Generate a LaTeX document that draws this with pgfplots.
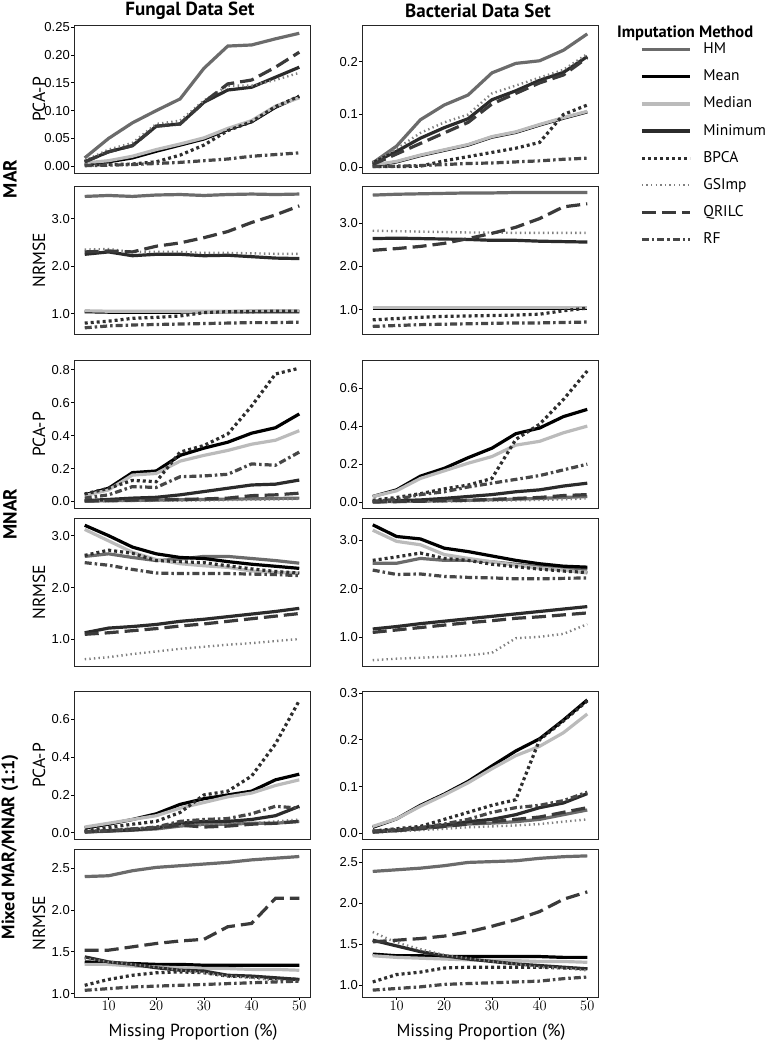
\documentclass[border=0pt]{standalone}
\usepackage{fontspec}
\setmainfont{PT Sans}
\newfontfamily\helv{Liberation Sans}
\usepackage{pgfplots}
\usepackage{pgfplotstable}
\pgfplotsset{compat=1.18}

\definecolor{cHM}{HTML}{6B6B6B}
\definecolor{cMed}{HTML}{BBBBBB}
\definecolor{cMin}{HTML}{2B2B2B}
\definecolor{cBPCA}{HTML}{2E2E2E}
\definecolor{cGS}{HTML}{808080}
\definecolor{cQR}{HTML}{3A3A3A}
\definecolor{cRF}{HTML}{474747}

% columns: x HM Mean Median Minimum BPCA GSImp QRILC RF
\pgfplotstableread{
x HM Mean Median Minimum BPCA GSImp QRILC RF
5  0.015 0.004 0.006 0.008 0.002 0.010 0.008 0.001
10 0.050 0.008 0.010 0.026 0.003 0.030 0.026 0.002
15 0.078 0.015 0.018 0.037 0.004 0.042 0.037 0.003
20 0.100 0.027 0.030 0.072 0.008 0.076 0.072 0.005
25 0.121 0.038 0.040 0.076 0.020 0.082 0.076 0.007
30 0.176 0.049 0.051 0.115 0.038 0.118 0.115 0.010
35 0.216 0.066 0.068 0.137 0.064 0.145 0.148 0.013
40 0.218 0.080 0.082 0.142 0.080 0.145 0.155 0.018
45 0.229 0.106 0.108 0.160 0.107 0.155 0.178 0.021
50 0.239 0.125 0.123 0.178 0.126 0.168 0.205 0.024
}\tA
\pgfplotstableread{
x HM Mean Median Minimum BPCA GSImp QRILC RF
5  3.47 1.04 1.06 2.25 0.80 2.35 2.30 0.70
10 3.49 1.03 1.05 2.30 0.84 2.36 2.32 0.74
15 3.47 1.03 1.05 2.22 0.90 2.30 2.30 0.76
20 3.50 1.03 1.05 2.25 0.92 2.30 2.42 0.77
25 3.51 1.03 1.05 2.25 0.95 2.30 2.49 0.78
30 3.49 1.04 1.05 2.22 1.02 2.28 2.60 0.79
35 3.51 1.04 1.05 2.23 1.04 2.28 2.73 0.80
40 3.52 1.04 1.06 2.20 1.04 2.27 2.92 0.81
45 3.51 1.04 1.06 2.17 1.05 2.26 3.08 0.81
50 3.52 1.04 1.06 2.16 1.05 2.26 3.27 0.82
}\tB
\pgfplotstableread{
x HM Mean Median Minimum BPCA GSImp QRILC RF
5  0.008 0.003 0.004 0.008 0.001 0.010 0.005 0.001
10 0.040 0.010 0.011 0.030 0.001 0.035 0.025 0.002
15 0.090 0.022 0.023 0.055 0.002 0.065 0.045 0.003
20 0.118 0.032 0.033 0.075 0.012 0.085 0.065 0.005
25 0.137 0.042 0.043 0.092 0.020 0.100 0.085 0.007
30 0.179 0.057 0.058 0.128 0.028 0.140 0.120 0.008
35 0.197 0.066 0.067 0.145 0.036 0.155 0.140 0.010
40 0.202 0.080 0.081 0.165 0.047 0.170 0.160 0.012
45 0.222 0.093 0.094 0.180 0.100 0.185 0.175 0.015
50 0.253 0.105 0.106 0.210 0.118 0.215 0.208 0.017
}\tC
\pgfplotstableread{
x HM Mean Median Minimum BPCA GSImp QRILC RF
5  3.64 1.04 1.05 2.64 0.77 2.82 2.37 0.62
10 3.66 1.04 1.05 2.65 0.80 2.81 2.41 0.64
15 3.67 1.04 1.05 2.64 0.83 2.80 2.46 0.66
20 3.68 1.04 1.05 2.63 0.85 2.79 2.53 0.67
25 3.69 1.04 1.05 2.62 0.86 2.78 2.64 0.68
30 3.69 1.04 1.05 2.60 0.87 2.78 2.76 0.69
35 3.70 1.04 1.05 2.60 0.88 2.77 2.90 0.70
40 3.70 1.04 1.05 2.58 0.90 2.77 3.10 0.70
45 3.70 1.04 1.05 2.57 0.98 2.77 3.37 0.71
50 3.70 1.04 1.05 2.56 1.04 2.77 3.44 0.72
}\tD
\pgfplotstableread{
x HM Mean Median Minimum BPCA GSImp QRILC RF
5  0.002 0.040 0.035 0.005 0.045 0.001 0.002 0.020
10 0.004 0.080 0.070 0.012 0.080 0.002 0.005 0.040
15 0.006 0.175 0.160 0.020 0.128 0.003 0.008 0.090
20 0.008 0.185 0.170 0.025 0.120 0.004 0.010 0.085
25 0.010 0.280 0.245 0.040 0.300 0.005 0.012 0.150
30 0.012 0.324 0.280 0.060 0.340 0.006 0.015 0.155
35 0.014 0.360 0.310 0.080 0.410 0.008 0.020 0.165
40 0.016 0.415 0.348 0.100 0.580 0.010 0.035 0.228
45 0.018 0.448 0.372 0.105 0.775 0.012 0.040 0.220
50 0.020 0.532 0.430 0.130 0.810 0.015 0.050 0.300
}\tE
\pgfplotstableread{
x HM Mean Median Minimum BPCA GSImp QRILC RF
5  2.60 3.20 3.12 1.13 2.62 0.62 1.10 2.48
10 2.65 3.00 2.90 1.22 2.72 0.66 1.13 2.43
15 2.58 2.78 2.68 1.25 2.66 0.72 1.17 2.35
20 2.52 2.65 2.54 1.29 2.52 0.77 1.21 2.28
25 2.55 2.58 2.46 1.35 2.50 0.82 1.26 2.27
30 2.60 2.56 2.42 1.39 2.48 0.86 1.30 2.27
35 2.60 2.50 2.39 1.44 2.42 0.90 1.35 2.27
40 2.56 2.45 2.32 1.49 2.36 0.93 1.40 2.26
45 2.52 2.41 2.29 1.54 2.31 0.97 1.45 2.25
50 2.47 2.37 2.28 1.60 2.28 1.01 1.50 2.23
}\tF
\pgfplotstableread{
x HM Mean Median Minimum BPCA GSImp QRILC RF
5  0.002 0.030 0.030 0.003 0.010 0.001 0.001 0.005
10 0.004 0.065 0.060 0.008 0.025 0.002 0.003 0.015
15 0.006 0.137 0.125 0.012 0.045 0.003 0.005 0.040
20 0.008 0.178 0.165 0.020 0.070 0.004 0.008 0.055
25 0.010 0.234 0.205 0.030 0.090 0.006 0.010 0.080
30 0.013 0.284 0.240 0.040 0.125 0.008 0.015 0.100
35 0.016 0.360 0.300 0.055 0.330 0.010 0.020 0.120
40 0.020 0.390 0.320 0.065 0.410 0.012 0.025 0.140
45 0.025 0.450 0.365 0.085 0.540 0.015 0.035 0.170
50 0.030 0.488 0.400 0.100 0.690 0.020 0.040 0.200
}\tG
\pgfplotstableread{
x HM Mean Median Minimum BPCA GSImp QRILC RF
5  2.52 3.31 3.20 1.17 2.58 0.53 1.10 2.38
10 2.52 3.07 2.97 1.22 2.65 0.56 1.15 2.29
15 2.62 3.02 2.90 1.28 2.73 0.58 1.20 2.30
20 2.58 2.83 2.70 1.33 2.62 0.60 1.25 2.25
25 2.58 2.76 2.62 1.38 2.58 0.63 1.30 2.23
30 2.55 2.67 2.55 1.43 2.50 0.68 1.34 2.22
35 2.50 2.58 2.48 1.48 2.45 0.98 1.39 2.20
40 2.45 2.51 2.42 1.53 2.40 1.01 1.42 2.20
45 2.42 2.46 2.38 1.58 2.36 1.07 1.46 2.21
50 2.40 2.44 2.32 1.63 2.33 1.27 1.50 2.22
}\tH
\pgfplotstableread{
x HM Mean Median Minimum BPCA GSImp QRILC RF
5  0.003 0.025 0.030 0.005 0.010 0.005 0.005 0.005
10 0.008 0.045 0.050 0.010 0.027 0.010 0.010 0.010
15 0.013 0.070 0.070 0.015 0.045 0.020 0.020 0.020
20 0.020 0.100 0.090 0.025 0.060 0.030 0.025 0.030
25 0.035 0.150 0.130 0.050 0.107 0.040 0.040 0.060
30 0.045 0.180 0.160 0.060 0.200 0.040 0.030 0.070
35 0.045 0.200 0.190 0.060 0.220 0.045 0.035 0.075
40 0.050 0.220 0.210 0.070 0.300 0.050 0.045 0.100
45 0.050 0.280 0.250 0.090 0.470 0.060 0.050 0.140
50 0.060 0.310 0.280 0.140 0.700 0.070 0.060 0.130
}\tI
\pgfplotstableread{
x HM Mean Median Minimum BPCA GSImp QRILC RF
5  2.40 1.38 1.35 1.44 1.10 1.42 1.52 1.04
10 2.41 1.37 1.35 1.38 1.17 1.38 1.52 1.06
15 2.47 1.36 1.33 1.35 1.22 1.35 1.56 1.08
20 2.51 1.35 1.32 1.31 1.25 1.32 1.60 1.09
25 2.53 1.35 1.31 1.28 1.26 1.28 1.63 1.10
30 2.55 1.34 1.30 1.27 1.25 1.25 1.65 1.11
35 2.57 1.34 1.30 1.22 1.21 1.21 1.80 1.12
40 2.60 1.34 1.29 1.21 1.20 1.19 1.84 1.13
45 2.62 1.34 1.29 1.19 1.18 1.16 2.14 1.14
50 2.64 1.34 1.28 1.17 1.17 1.14 2.14 1.15
}\tJ
\pgfplotstableread{
x HM Mean Median Minimum BPCA GSImp QRILC RF
5  0.003 0.013 0.015 0.003 0.005 0.002 0.003 0.005
10 0.006 0.031 0.031 0.007 0.010 0.004 0.006 0.008
15 0.010 0.060 0.058 0.012 0.015 0.007 0.010 0.012
20 0.015 0.084 0.082 0.018 0.030 0.010 0.015 0.020
25 0.020 0.111 0.108 0.025 0.045 0.013 0.020 0.030
30 0.022 0.144 0.138 0.030 0.060 0.015 0.025 0.045
35 0.025 0.176 0.166 0.040 0.072 0.017 0.030 0.055
40 0.030 0.202 0.186 0.055 0.200 0.020 0.035 0.060
45 0.040 0.242 0.215 0.065 0.240 0.025 0.045 0.070
50 0.050 0.285 0.255 0.085 0.283 0.030 0.055 0.088
}\tK
\pgfplotstableread{
x HM Mean Median Minimum BPCA GSImp QRILC RF
5  2.39 1.38 1.36 1.55 1.04 1.65 1.53 0.94
10 2.41 1.36 1.34 1.48 1.13 1.52 1.55 0.96
15 2.43 1.36 1.33 1.41 1.16 1.44 1.57 0.98
20 2.46 1.35 1.32 1.36 1.21 1.37 1.60 1.01
25 2.50 1.35 1.31 1.32 1.22 1.33 1.65 1.02
30 2.51 1.35 1.30 1.29 1.22 1.29 1.72 1.03
35 2.52 1.35 1.30 1.26 1.22 1.26 1.80 1.04
40 2.55 1.35 1.29 1.24 1.22 1.22 1.90 1.05
45 2.57 1.34 1.29 1.22 1.21 1.21 2.05 1.08
50 2.58 1.34 1.28 1.20 1.20 1.18 2.14 1.10
}\tL

\pgfplotsset{
  sHM/.style={color=cHM, line width=3.2pt},
  sMean/.style={color=black, line width=3.2pt},
  sMed/.style={color=cMed, line width=3.2pt},
  sMin/.style={color=cMin, line width=3.2pt},
  sBPCA/.style={color=cBPCA, line width=3.2pt, dash pattern=on 3pt off 3pt},
  sGS/.style={color=cGS, line width=2.4pt, dash pattern=on 1.4pt off 3.2pt},
  sQR/.style={color=cQR, line width=3.2pt, dash pattern=on 14pt off 6pt},
  sRF/.style={color=cRF, line width=3.2pt, dash pattern=on 7pt off 3pt on 2.5pt off 3pt},
  panel/.style={
    scale only axis, width=236pt, height=148pt, anchor=south west,
    xmin=2.75, xmax=52.25, xtick=\empty,
    ytick pos=left, xtick pos=bottom,
    tick align=outside, major tick length=3pt,
    tick style={black, line width=0.8pt},
    axis line style={black!85, line width=0.9pt},
    yticklabel style={font=\helv\fontsize{13}{14}\selectfont, inner sep=1pt},
    xticklabel style={font=\helv\fontsize{14}{15}\selectfont, inner sep=1pt},
  },
  bottomrow/.style={xtick={10,20,30,40,50}},
}

\newcommand{\allseries}[1]{%
  \addplot[sHM] table[x=x,y=HM]{#1};
  \addplot[sMean] table[x=x,y=Mean]{#1};
  \addplot[sMed] table[x=x,y=Median]{#1};
  \addplot[sMin] table[x=x,y=Minimum]{#1};
  \addplot[sBPCA] table[x=x,y=BPCA]{#1};
  \addplot[sGS] table[x=x,y=GSImp]{#1};
  \addplot[sQR] table[x=x,y=QRILC]{#1};
  \addplot[sRF] table[x=x,y=RF]{#1};
}

\begin{document}
\begin{tikzpicture}
\path[use as bounding box] (0,0) rectangle (766pt,1041pt);

% ---- MAR ----
\begin{axis}[panel, at={(74pt,867.5pt)}, ymin=-0.013, ymax=0.253,
  ytick={0,0.05,0.1,0.15,0.2,0.25}, yticklabels={0.00,0.05,0.10,0.15,0.20,0.25}]
\allseries{\tA}
\end{axis}
\begin{axis}[panel, at={(74pt,707pt)}, ymin=0.57, ymax=3.69,
  ytick={1,2,3}, yticklabels={1.0,2.0,3.0}]
\allseries{\tB}
\end{axis}
\begin{axis}[panel, at={(362pt,867.5pt)}, ymin=-0.012, ymax=0.269,
  ytick={0,0.1,0.2}, yticklabels={0.0,0.1,0.2},
  legend entries={HM,Mean,Median,Minimum,BPCA,GSImp,QRILC,RF},
  legend image code/.code={\draw[#1] (0pt,0pt) -- (48pt,0pt);},
  legend cell align=left,
  legend style={at={(1.178,0.885)}, anchor=north west, draw=none, fill=none,
    inner sep=0pt, font=\fontsize{15.5}{15.5}\selectfont,
    nodes={inner sep=0pt, text height=11pt, text depth=3pt},
    row sep=13.1pt, /tikz/every odd column/.append style={column sep=12pt}}]
\allseries{\tC}
\end{axis}
\begin{axis}[panel, at={(362pt,707pt)}, ymin=0.445, ymax=3.85,
  ytick={1,2,3}, yticklabels={1.0,2.0,3.0}]
\allseries{\tD}
\end{axis}

% ---- MNAR ----
\begin{axis}[panel, at={(74pt,532.5pt)}, ymin=-0.043, ymax=0.857,
  ytick={0,0.2,0.4,0.6,0.8}, yticklabels={0.0,0.2,0.4,0.6,0.8}]
\allseries{\tE}
\end{axis}
\begin{axis}[panel, at={(74pt,375pt)}, ymin=0.49, ymax=3.34,
  ytick={1,2,3}, yticklabels={1.0,2.0,3.0}]
\allseries{\tF}
\end{axis}
\begin{axis}[panel, at={(362pt,532.5pt)}, ymin=-0.033, ymax=0.745,
  ytick={0,0.2,0.4,0.6}, yticklabels={0.0,0.2,0.4,0.6}]
\allseries{\tG}
\end{axis}
\begin{axis}[panel, at={(362pt,375pt)}, ymin=0.41, ymax=3.45,
  ytick={1,2,3}, yticklabels={1.0,2.0,3.0}]
\allseries{\tH}
\end{axis}

% ---- Mixed ----
\begin{axis}[panel, at={(74pt,201.5pt)}, ymin=-0.036, ymax=0.748,
  ytick={0,0.2,0.4,0.6}, yticklabels={0.0,0.2,0.4,0.6}]
\allseries{\tI}
\end{axis}
\begin{axis}[panel, bottomrow, at={(74pt,44pt)}, ymin=0.96, ymax=2.73,
  ytick={1,1.5,2,2.5}, yticklabels={1.0,1.5,2.0,2.5}]
\allseries{\tJ}
\end{axis}
\begin{axis}[panel, at={(362pt,201.5pt)}, ymin=-0.013, ymax=0.303,
  ytick={0,0.1,0.2,0.3}, yticklabels={0.0,0.1,0.2,0.3}]
\allseries{\tK}
\end{axis}
\begin{axis}[panel, bottomrow, at={(362pt,44pt)}, ymin=0.856, ymax=2.664,
  ytick={1,1.5,2,2.5}, yticklabels={1.0,1.5,2.0,2.5}]
\allseries{\tL}
\end{axis}

% titles and labels
\node[font=\bfseries\fontsize{19}{19}\selectfont] at (190pt,1030pt) {Fungal Data Set};
\node[font=\bfseries\fontsize{19}{19}\selectfont] at (478pt,1030pt) {Bacterial Data Set};
\node[font=\bfseries\fontsize{16.5}{17}\selectfont, anchor=west, inner sep=0pt] at (617pt,1008pt) {Imputation Method};

\node[font=\bfseries\fontsize{19}{19}\selectfont, rotate=90] at (10pt,862pt) {MAR};
\node[font=\bfseries\fontsize{19}{19}\selectfont, rotate=90] at (10pt,527pt) {MNAR};
\node[font=\bfseries\fontsize{18}{18}\selectfont, rotate=90] at (10pt,194pt) {Mixed MAR/MNAR (1:1)};

\foreach \yy/\lab in {941.5/PCA-P, 781/NRMSE, 606.5/PCA-P, 449/NRMSE, 275.5/PCA-P, 118/NRMSE}
  \node[font=\fontsize{17.5}{17.5}\selectfont, rotate=90] at (39pt,\yy pt) {\lab};

\node[font=\fontsize{17.5}{17.5}\selectfont] at (193pt,9pt) {Missing Proportion (\%)};
\node[font=\fontsize{17.5}{17.5}\selectfont] at (481pt,9pt) {Missing Proportion (\%)};
\end{tikzpicture}
\end{document}
